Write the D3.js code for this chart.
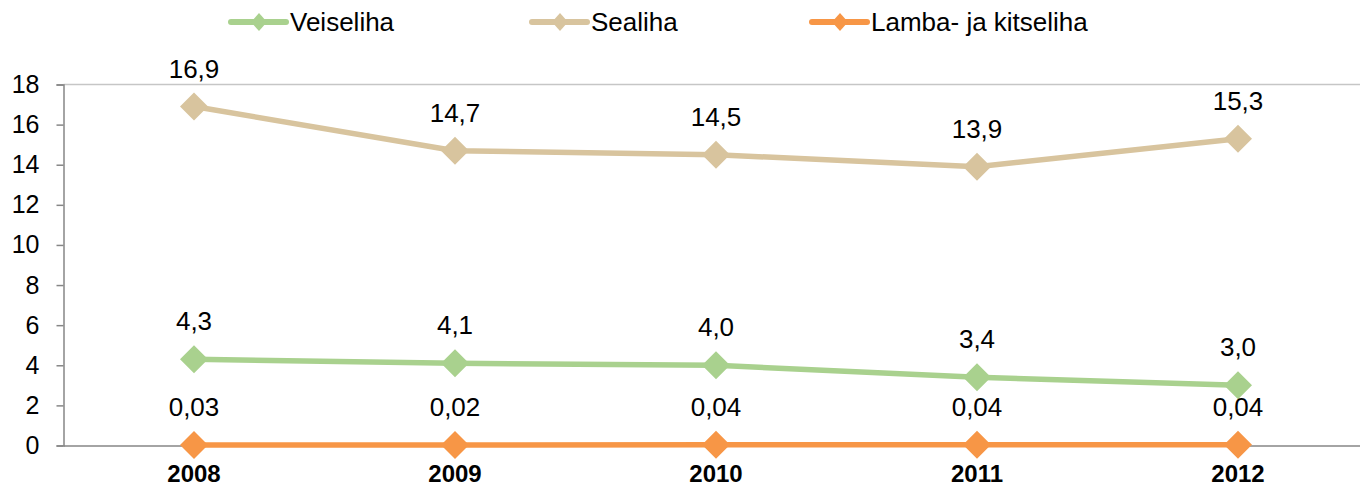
<!DOCTYPE html>
<html>
<head>
<meta charset="utf-8">
<script src="https://cdn.jsdelivr.net/npm/d3@7"></script>
<style>
  body { margin: 0; background: #fff; }
  text { font-family: "Liberation Sans", Arial, sans-serif; }
</style>
</head>
<body>
<script>
var years = ["2008", "2009", "2010", "2011", "2012"];
var veiseliha = [4.3, 4.1, 4.0, 3.4, 3.0];
var sealiha = [16.9, 14.7, 14.5, 13.9, 15.3];
var lamba = [0.03, 0.02, 0.04, 0.04, 0.04];
var veiselihaLabels = ["4,3", "4,1", "4,0", "3,4", "3,0"];
var sealihaLabels = ["16,9", "14,7", "14,5", "13,9", "15,3"];
var lambaLabels = ["0,03", "0,02", "0,04", "0,04", "0,04"];
var yTicks = [0, 2, 4, 6, 8, 10, 12, 14, 16, 18];

var series = [
  {name: "Veiseliha", values: veiseliha, labels: veiselihaLabels, color: "#a9d18e"},
  {name: "Sealiha", values: sealiha, labels: sealihaLabels, color: "#d8c49e"},
  {name: "Lamba- ja kitseliha", values: lamba, labels: lambaLabels, color: "#f79646"}
];

var width = 1360, height = 486;

var svg = d3.select("body")
  .append("svg")
  .attr("width", width)
  .attr("height", height);

var xScale = d3.scaleBand()
  .domain(years)
  .range([63.5, 1368.5]);

var yScale = d3.scaleLinear()
  .domain([0, 18])
  .range([445.5, 84.5]);

// top border line of plot area
svg.append("line")
  .attr("x1", 63.5).attr("x2", width)
  .attr("y1", yScale(18)).attr("y2", yScale(18))
  .attr("stroke", "#c6c6c6")
  .attr("stroke-width", 1.5);

var yAxis = d3.axisLeft(yScale).tickValues(yTicks).tickSize(7).tickPadding(17)
  .tickFormat(d3.format("d"));

var gy = svg.append("g")
  .attr("transform", "translate(63.5,0)")
  .call(yAxis);
gy.select(".domain").attr("stroke", "#868686").attr("stroke-width", 1.5);
gy.selectAll(".tick line").attr("stroke", "#868686").attr("stroke-width", 1.5);
gy.selectAll(".tick text").attr("font-size", 25).attr("fill", "#000")
  .style("font-family", "Liberation Sans, Arial, sans-serif");

var xAxis = d3.axisBottom(xScale).tickSize(0).tickPadding(19);
var gx = svg.append("g")
  .attr("transform", "translate(0," + yScale(0) + ")")
  .call(xAxis);
gx.select(".domain").attr("stroke", "#868686").attr("stroke-width", 1.5);
gx.selectAll(".tick text").attr("font-size", 24).attr("font-weight", "bold").attr("fill", "#000")
  .style("font-family", "Liberation Sans, Arial, sans-serif");

function cx(i) { return xScale(years[i]) + xScale.bandwidth() / 2; }

var line = d3.line()
  .x(function(d, i) { return cx(i); })
  .y(function(d) { return yScale(d); });

function diamond(r) {
  return "M0," + (-r) + "L" + r + ",0L0," + r + "L" + (-r) + ",0Z";
}

series.forEach(function(s) {
  var g = svg.append("g");
  g.append("path")
    .datum(s.values)
    .attr("d", line)
    .attr("fill", "none")
    .attr("stroke", s.color)
    .attr("stroke-width", 5.5)
    .attr("stroke-linejoin", "round");

  g.selectAll(".marker")
    .data(s.values)
    .enter().append("path")
    .attr("class", "marker")
    .attr("d", diamond(14))
    .attr("fill", s.color)
    .attr("transform", function(d, i) { return "translate(" + cx(i) + "," + yScale(d) + ")"; });

  g.selectAll(".lbl")
    .data(s.values)
    .enter().append("text")
    .attr("class", "lbl")
    .attr("x", function(d, i) { return cx(i); })
    .attr("y", function(d) { return yScale(d) - 29; })
    .attr("text-anchor", "middle")
    .attr("font-size", 26)
    .attr("fill", "#000")
    .text(function(d, i) { return s.labels[i]; });
});

// legend
var legendX = [231, 532, 812];
var legend = svg.append("g");
series.forEach(function(s, i) {
  var lg = legend.append("g").attr("transform", "translate(" + legendX[i] + ",22)");
  lg.append("line")
    .attr("x1", 0).attr("x2", 55)
    .attr("y1", 0).attr("y2", 0)
    .attr("stroke", s.color)
    .attr("stroke-width", 6)
    .attr("stroke-linecap", "round");
  lg.append("path")
    .attr("d", "M28,-9L36,0L28,9L20,0Z")
    .attr("fill", s.color);
  lg.append("text")
    .attr("x", 59)
    .attr("y", 9)
    .attr("font-size", 26)
    .attr("fill", "#000")
    .text(s.name);
});
</script>
</body>
</html>
